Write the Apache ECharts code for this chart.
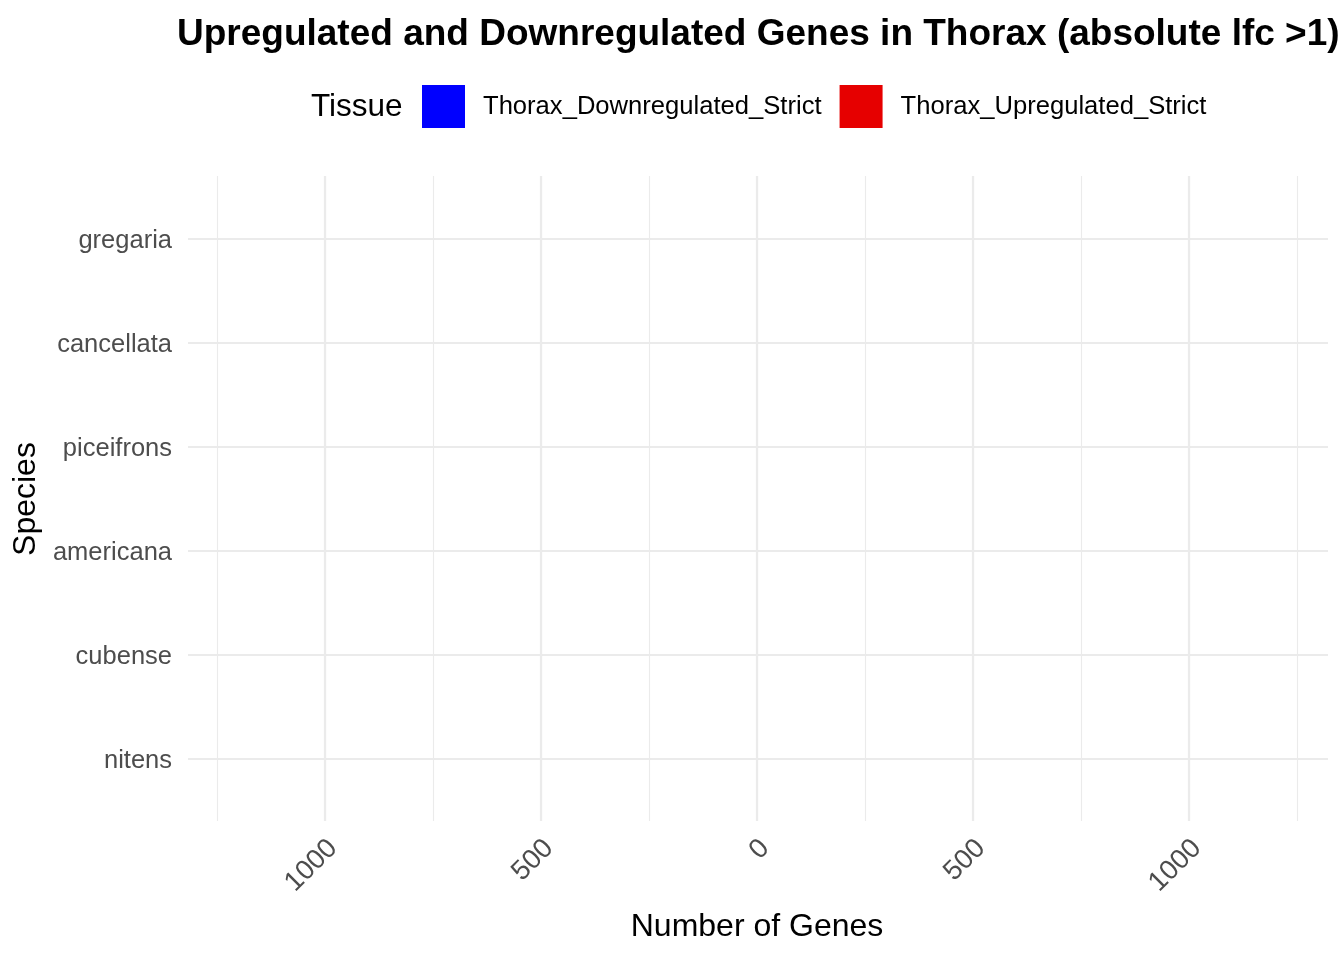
<!DOCTYPE html>
<html>
<head>
<meta charset="utf-8">
<script src="https://cdn.jsdelivr.net/npm/echarts@6/dist/echarts.min.js"></script>
<style>
  html, body { margin: 0; padding: 0; background: #ffffff; }
  #chart { width: 1344px; height: 960px; }
</style>
</head>
<body>
<div id="chart"></div>
<script>
// Categories (bottom to top)
const species = ['nitens', 'cubense', 'americana', 'piceifrons', 'cancellata', 'gregaria'];
// Series values: no bars are visible in the reference plot (missing values)
const downregulated = [null, null, null, null, null, null];
const upregulated = [null, null, null, null, null, null];
// Tick values for the gene-count axis
const majorTicks = [-1000, -500, 0, 500, 1000];
const seriesNames = ['Thorax_Downregulated_Strict', 'Thorax_Upregulated_Strict'];

const FONT = '"Liberation Sans", Arial, Helvetica, sans-serif';
const chart = echarts.init(document.getElementById('chart'), null, { renderer: 'canvas' });

const option = {
  backgroundColor: '#ffffff',
  animation: false,
  textStyle: { fontFamily: FONT },
  title: {
    text: 'Upregulated and Downregulated Genes in Thorax (absolute lfc >1)',
    left: 172,
    top: 11,
    textStyle: { fontSize: 37, fontWeight: 'bold', color: '#000000', fontFamily: FONT }
  },
  legend: {
    left: 417,
    top: 80,
    itemWidth: 43,
    itemHeight: 43,
    itemGap: 18,
    icon: 'rect',
    data: seriesNames,
    textStyle: { fontSize: 25.6, color: '#000000', fontFamily: FONT, padding: [0, 0, 0, 13] }
  },
  graphic: [{
    type: 'text',
    x: 311,
    y: 107,
    style: { text: 'Tissue', fontSize: 31.5, fontFamily: FONT, fill: '#000000', verticalAlign: 'middle', align: 'left' }
  }],
  grid: [
    { left: 217, width: 1080, top: 176, height: 645 },
    { left: 325, width: 864, top: 176, height: 645 },
    { left: 188, width: 1140, top: 239, height: 520 },
    { left: 333, width: 864, top: 176, height: 645 }
  ],
  xAxis: [
    {
      gridIndex: 0, type: 'value', min: -1250, max: 1250, interval: 250,
      axisLine: { show: false }, axisTick: { show: false }, axisLabel: { show: false },
      splitLine: { show: true, lineStyle: { color: '#ebebeb', width: 1.1 } }
    },
    {
      gridIndex: 1, type: 'value', min: majorTicks[0], max: majorTicks[majorTicks.length - 1], interval: 500,
      axisLine: { show: false }, axisTick: { show: false }, axisLabel: { show: false },
      splitLine: { show: true, lineStyle: { color: '#ebebeb', width: 2.2 } },
      name: 'Number of Genes', nameLocation: 'middle', nameGap: 90,
      nameTextStyle: { fontSize: 32, color: '#000000', fontFamily: FONT }
    },
    {
      gridIndex: 2, type: 'value', min: -1320, max: 1320, show: false
    },
    {
      gridIndex: 3, type: 'value', min: majorTicks[0], max: majorTicks[majorTicks.length - 1], interval: 500,
      axisLine: { show: false }, axisTick: { show: false }, splitLine: { show: false },
      axisLabel: {
        rotate: 45, fontSize: 27.5, color: '#4d4d4d', margin: 23, fontFamily: FONT,
        formatter: function (v) { return String(Math.abs(v)); }
      }
    }
  ],
  yAxis: [
    { gridIndex: 0, type: 'value', show: false },
    { gridIndex: 1, type: 'value', show: false },
    {
      gridIndex: 2, type: 'category', data: species, boundaryGap: false,
      axisLine: { show: false }, axisTick: { show: false },
      axisLabel: {
        margin: 16,
        formatter: function (v) { return '{s|' + v + '}'; },
        rich: { s: { fontSize: 25.5, color: '#4d4d4d', fontFamily: FONT, padding: [4, 0, 0, 0] } }
      },
      splitLine: { show: true, lineStyle: { color: '#ebebeb', width: 2.2 } },
      name: 'Species', nameLocation: 'middle', nameRotate: 90, nameGap: 141,
      nameTextStyle: { fontSize: 32, color: '#000000', fontFamily: FONT }
    },
    { gridIndex: 3, type: 'value', show: false }
  ],
  series: [
    {
      name: seriesNames[0], type: 'bar', stack: 'genes', xAxisIndex: 2, yAxisIndex: 2,
      itemStyle: { color: '#0000ff' },
      data: downregulated.map(function (v) { return v === null ? null : -v; })
    },
    {
      name: seriesNames[1], type: 'bar', stack: 'genes', xAxisIndex: 2, yAxisIndex: 2,
      itemStyle: { color: '#e60000' },
      data: upregulated
    }
  ]
};
chart.setOption(option);
</script>
</body>
</html>
